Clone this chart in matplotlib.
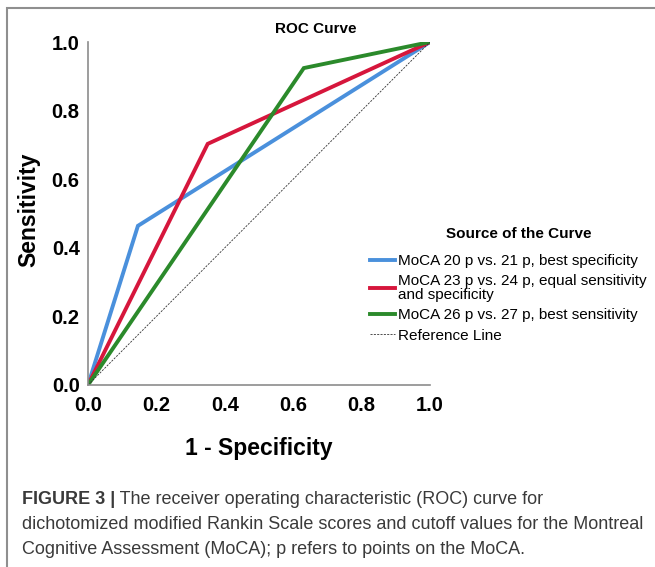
import matplotlib.pyplot as plt
from matplotlib.patches import Rectangle

# ROC points (1 - specificity, sensitivity)
fpr_20 = [0.0, 0.146, 1.0]
tpr_20 = [0.0, 0.464, 1.0]
fpr_23 = [0.0, 0.350, 1.0]
tpr_23 = [0.0, 0.703, 1.0]
fpr_26 = [0.0, 0.631, 1.0]
tpr_26 = [0.0, 0.924, 1.0]
ref_line = [0.0, 1.0]

labels = ['MoCA 20 p vs. 21 p, best specificity',
          'MoCA 23 p vs. 24 p, equal sensitivity\nand specificity',
          'MoCA 26 p vs. 27 p, best sensitivity',
          'Reference Line']
ticks = [0.0, 0.2, 0.4, 0.6, 0.8, 1.0]

plt.rcParams['font.family'] = ['Liberation Sans', 'DejaVu Sans']

fig = plt.figure(figsize=(6.55, 5.67), dpi=100)
ax = fig.add_axes([88/655, 1 - 385/567, 342/655, 343/567])

ax.plot(fpr_20, tpr_20, color='#4a90dc', lw=2.8, label=labels[0], solid_joinstyle='miter')
ax.plot(fpr_23, tpr_23, color='#d6163c', lw=2.8, label=labels[1], solid_joinstyle='miter')
ax.plot(fpr_26, tpr_26, color='#2b8a2b', lw=2.8, label=labels[2], solid_joinstyle='miter')
ax.plot(ref_line, ref_line, color='#333333', lw=0.6, linestyle=(0, (2.5, 1.5)), label=labels[3])

ax.set_xlim(0, 1)
ax.set_ylim(0, 1)
ax.set_xticks(ticks)
ax.set_yticks(ticks)
ax.set_xticklabels([f'{t:.1f}' for t in ticks], fontsize=14.5, fontweight='bold')
ax.set_yticklabels([f'{t:.1f}' for t in ticks], fontsize=14.5, fontweight='bold')
ax.tick_params(axis='x', length=0, pad=8)
ax.tick_params(axis='y', length=0, pad=6)
for s in ['top', 'right']:
    ax.spines[s].set_visible(False)
for s in ['left', 'bottom']:
    ax.spines[s].set_color('#8c8c8c')
    ax.spines[s].set_linewidth(1.2)

ax.set_xlabel('1 - Specificity', fontsize=16.5, fontweight='bold', labelpad=16)
ax.set_ylabel('Sensitivity', fontsize=16.5, fontweight='bold')
ax.yaxis.set_label_coords(-0.14, 0.51)
fig.text(316/655, 1 - 29/567, 'ROC Curve', fontsize=11, fontweight='bold', ha='center', va='center')

# legend (title drawn separately to get the wider gap)
fig.text(519/655, 1 - 234/567, 'Source of the Curve', fontsize=11, fontweight='bold', ha='center', va='center')
leg = ax.legend(loc='upper left', bbox_to_anchor=(370/655, 1 - 254/567), bbox_transform=fig.transFigure,
                frameon=False, fontsize=11, borderaxespad=0,
                handlelength=1.64, handletextpad=0.18, labelspacing=0.42, borderpad=0)
for t in leg.get_texts():
    t.set_linespacing(0.95)

# frame around the figure panel
fig.patches.append(Rectangle((7/655, -0.1), 1.0, 1.1 - 8/567, transform=fig.transFigure,
                             fill=False, edgecolor='#8f8f8f', lw=1.5))

# caption
cap_col = '#3a3a3a'
cap1 = ' The receiver operating characteristic (ROC) curve for'
cap2 = 'dichotomized modified Rankin Scale scores and cutoff values for the Montreal'
cap3 = 'Cognitive Assessment (MoCA); p refers to points on the MoCA.'
t1 = fig.text(22/655, 1 - 504/567, 'FIGURE 3 |', fontsize=13, fontweight='bold', color=cap_col, va='baseline')
ax.annotate(cap1, xy=(1, 0), xycoords=t1,
            fontsize=13, color=cap_col, va='bottom', ha='left', annotation_clip=False)
fig.text(22/655, 1 - 529/567, cap2, fontsize=13, color=cap_col, va='baseline')
fig.text(22/655, 1 - 554/567, cap3, fontsize=13, color=cap_col, va='baseline')

fig.savefig('out.png', dpi=100)
